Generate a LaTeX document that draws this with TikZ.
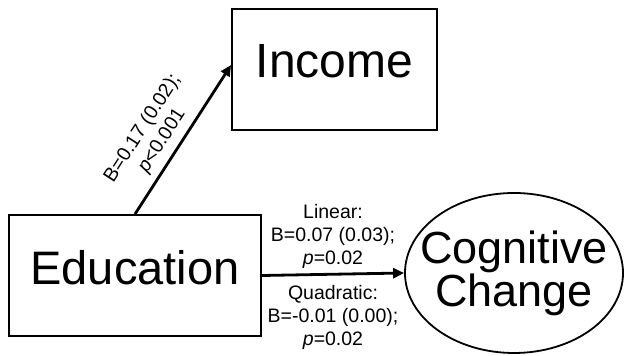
\documentclass[tikz,border=0pt]{standalone}
\usepackage{fontspec}
\setmainfont{Liberation Sans}
\usetikzlibrary{shapes.geometric,arrows.meta,calc}
\begin{document}
\begin{tikzpicture}[x=1pt,y=1pt,
  boxnode/.style={draw=black, line width=1.8pt, rectangle, inner sep=0pt},
  bigtext/.style={font=\fontsize{48}{40}\selectfont},
  lbl/.style={font=\fontsize{19.5}{23}\selectfont, align=center},
  conn/.style={line width=2.8pt, -{Triangle[length=11pt,width=10pt]}}]
\useasboundingbox (0,0) rectangle (625,356);
\fill[white] (0,0) rectangle (625,356);
\node[boxnode, bigtext, font=\fontsize{47}{40}\selectfont, minimum width=252pt, minimum height=121pt, text depth=16pt] (edu) at (135,80.5) {Education};
\node[boxnode, bigtext, minimum width=205pt, minimum height=121pt, text depth=18pt] (inc) at (334.5,286.5) {Income};
\node[draw=black, line width=1.8pt, ellipse, minimum width=218pt, minimum height=160pt, inner sep=0pt] (cog) at (514,83) {};
\node[font=\fontsize{45}{38}\selectfont, align=center] (cogt) at (cog.center) {Cognitive\\Change};
\draw[conn] (edu.north) -- node[lbl, pos=0.43, sloped, above, inner sep=6.5pt] (lblinc) {B=0.17 (0.02);\\\textit{p}<0.001} ([yshift=4.5pt]inc.west);
\draw[conn] (edu.east) -- node[lbl, midway, above, inner sep=4pt] (lbllin) {Linear:\\B=0.07 (0.03);\\\textit{p}=0.02}
  node[lbl, midway, below, inner sep=10pt] (lblquad) {Quadratic:\\B=-0.01 (0.00);\\\textit{p}=0.02} (cog.west);
\end{tikzpicture}
\end{document}
